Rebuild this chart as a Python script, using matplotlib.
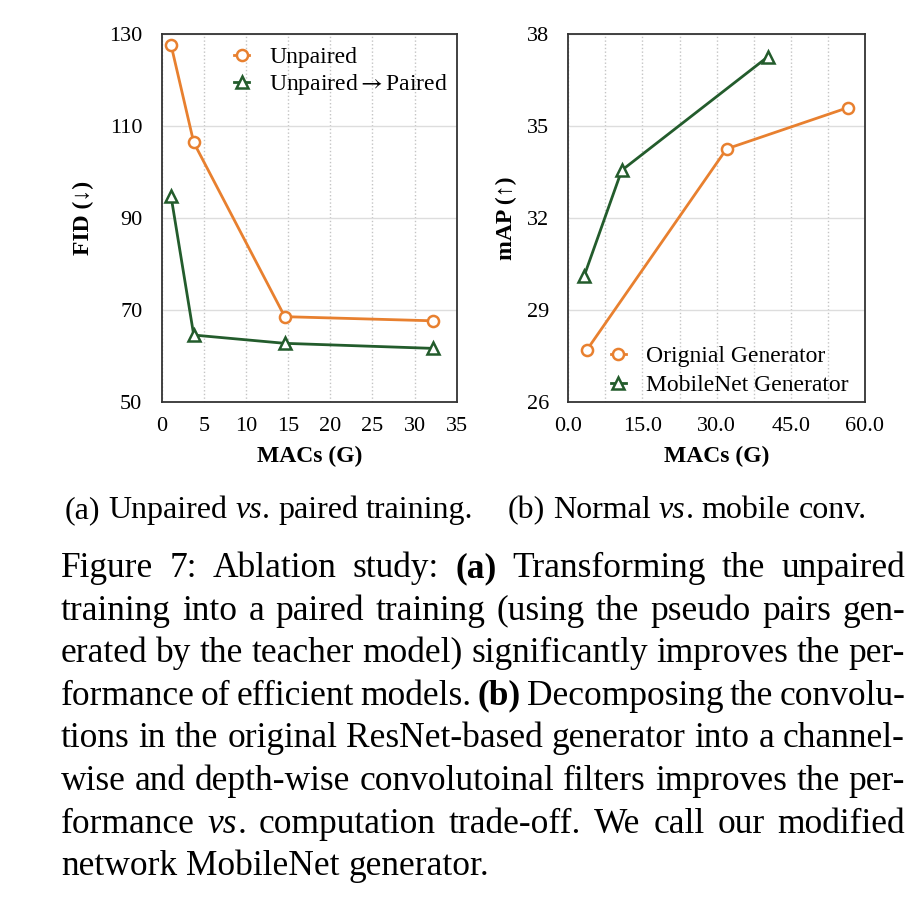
import numpy as np
import matplotlib.pyplot as plt
from matplotlib.ticker import MultipleLocator, FormatStrFormatter
from matplotlib.transforms import IdentityTransform

plt.rcParams['font.family'] = ['Liberation Serif', 'DejaVu Serif']
plt.rcParams['mathtext.fontset'] = 'stix'

# (a) unpaired vs paired training
macs_a = [1.1, 3.8, 14.6, 32.2]
fid_unpaired = [127.7, 106.4, 68.5, 67.6]
fid_paired = [94.8, 64.5, 62.7, 61.6]
labels_a = ['Unpaired', r'Unpaired$\rightarrow$Paired']
xticks_a = [0, 5, 10, 15, 20, 25, 30, 35]
yticks_a = [50, 70, 90, 110, 130]

# (b) normal vs mobile conv
macs_orig = [3.8, 32.0, 56.6]
map_orig = [27.7, 34.25, 35.6]
macs_mobile = [3.2, 10.8, 40.3]
map_mobile = [30.1, 33.55, 37.25]
labels_b = ['Orignial Generator', 'MobileNet Generator']
xticks_b = [0, 15, 30, 45, 60]
yticks_b = [26, 29, 32, 35, 38]

subcaptions = ['(a) Unpaired vs. paired training.', '(b) Normal vs. mobile conv.']
caption = [
    "Figure 7: Ablation study: (a) Transforming the unpaired",
    "training into a paired training (using the pseudo pairs gen-",
    "erated by the teacher model) significantly improves the per-",
    "formance of efficient models. (b) Decomposing the convolu-",
    "tions in the original ResNet-based generator into a channel-",
    "wise and depth-wise convolutoinal filters improves the per-",
    "formance vs. computation trade-off. We call our modified",
    "network MobileNet generator.",
]

orange = '#e8802f'
green = '#235c2c'
W, H = 914, 898

fig = plt.figure(figsize=(W / 100, H / 100), dpi=100)
ax1 = fig.add_axes([161.7 / W, 1 - 401.7 / H, 295 / W, 367.7 / H])
ax2 = fig.add_axes([568.3 / W, 1 - 401.7 / H, 296.7 / W, 367.7 / H])


def style_axes(ax):
    for s in ax.spines.values():
        s.set_color('#333333')
        s.set_linewidth(1.3)
    ax.tick_params(axis='both', which='both', length=0, labelsize=16)
    ax.tick_params(axis='x', pad=11)
    ax.tick_params(axis='y', pad=14)
    ax.grid(axis='y', color='#dddddd', linewidth=1.0, linestyle='-')
    ax.set_axisbelow(True)


# left plot
style_axes(ax1)
ax1.plot(macs_a, fid_unpaired, color=orange, lw=2, marker='o', ms=8,
         mfc='white', mew=1.8, label=labels_a[0], zorder=3)
ax1.plot(macs_a, fid_paired, color=green, lw=2, marker='^', ms=8.5,
         mfc='white', mew=1.8, label=labels_a[1], zorder=3)
ax1.set_xlim(0, 35)
ax1.set_ylim(50, 130)
ax1.set_xticks(xticks_a)
ax1.set_yticks(yticks_a)
ax1.grid(axis='x', color='#c4c4c4', linewidth=1.0, linestyle=':')
ax1.set_xlabel('MACs (G)', fontsize=17, fontweight='bold', labelpad=7)
ax1.set_ylabel('FID (↓)', fontsize=17, fontweight='bold', labelpad=11)
ax1.legend(loc='upper left', bbox_to_anchor=(0.245, 0.966), frameon=False,
           fontsize=17, handlelength=0.65, handletextpad=0.85, labelspacing=0.18,
           borderpad=0, borderaxespad=0)

# right plot
style_axes(ax2)
ax2.plot(macs_orig, map_orig, color=orange, lw=2, marker='o', ms=8,
         mfc='white', mew=1.8, label=labels_b[0], zorder=3)
ax2.plot(macs_mobile, map_mobile, color=green, lw=2, marker='^', ms=8.5,
         mfc='white', mew=1.8, label=labels_b[1], zorder=3)
ax2.set_xlim(0, 60)
ax2.set_ylim(26, 38)
ax2.set_xticks(xticks_b)
ax2.set_yticks(yticks_b)
ax2.xaxis.set_major_formatter(FormatStrFormatter('%.1f'))
ax2.xaxis.set_minor_locator(MultipleLocator(7.5))
ax2.grid(axis='x', which='both', color='#c4c4c4', linewidth=1.0, linestyle=':')
ax2.set_xlabel('MACs (G)', fontsize=17, fontweight='bold', labelpad=7)
ax2.set_ylabel('mAP (↑)', fontsize=17, fontweight='bold', labelpad=7)
ax2.legend(loc='lower left', bbox_to_anchor=(0.143, 0.015), frameon=False,
           fontsize=17, handlelength=0.65, handletextpad=0.85, labelspacing=0.32,
           borderpad=0, borderaxespad=0)

# caption text, placed word by word so lines can be justified
renderer = fig.canvas.get_renderer()


def segments(word, bold_tags):
    if bold_tags and word in ('(a)', '(b)'):
        return [(word, 'bold', 'normal')]
    if word.startswith('vs.'):
        return [('vs', 'normal', 'italic'), (word[2:], 'normal', 'normal')]
    return [(word, 'normal', 'normal')]


def text_width(s, size, weight='normal', style='normal'):
    t = fig.text(0, 0, s, fontsize=size, fontweight=weight, fontstyle=style)
    w = t.get_window_extent(renderer).width
    t.remove()
    return w


def draw_line(line, x0, y_img, size, x1=None, bold_tags=True):
    words = [segments(w, bold_tags) for w in line.split()]
    widths = [[text_width(s, size, wt, st) for s, wt, st in w] for w in words]
    total = sum(sum(w) for w in widths)
    if x1 is None or len(words) < 2:
        gap = text_width('x x', size) - text_width('xx', size)
    else:
        gap = (x1 - x0 - total) / (len(words) - 1)
    x = x0
    y = H - y_img
    for segs, ws in zip(words, widths):
        for (s, wt, st), w in zip(segs, ws):
            fig.text(x, y, s, fontsize=size, fontweight=wt, fontstyle=st,
                     va='baseline', ha='left', transform=IdentityTransform())
            x += w
        x += gap


draw_line(subcaptions[0], 65, 518, 23, bold_tags=False)
draw_line(subcaptions[1], 508, 518, 23, bold_tags=False)

for i, line in enumerate(caption):
    last = i == len(caption) - 1
    draw_line(line, 61, 577 + 42.6 * i, 25.5, x1=None if last else 905)

fig.savefig('out.png', dpi=100)
